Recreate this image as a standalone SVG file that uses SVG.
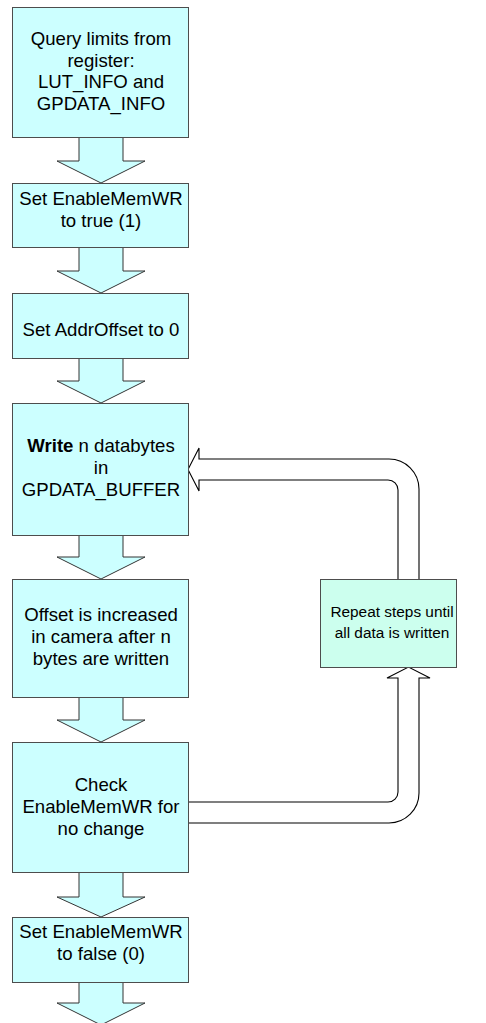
<svg xmlns="http://www.w3.org/2000/svg" width="486" height="1023" viewBox="0 0 486 1023">
<style>
.box{fill:#CCFFFF;stroke:#4d4d4d;stroke-width:1}
.box2{fill:#CCFFEE;stroke:#4d4d4d;stroke-width:1}
.down{fill:#CCFFFF;stroke:#333;stroke-width:1}
.loop{fill:#ffffff;stroke:#000;stroke-width:1.1}
text{font-family:"Liberation Sans",Arial,sans-serif;font-size:18.6px;fill:#000;text-anchor:middle}
.small{font-size:15.4px}
</style>
<rect width="486" height="1023" fill="#ffffff"/>
<g id="connectors">
<path class="down" d="M79,137 L79,161 L57,161 L101,183 L145,161 L123,161 L123,137"/>
<path class="down" d="M79,247 L79,271 L57,271 L101,293 L145,271 L123,271 L123,247"/>
<path class="down" d="M79,358 L79,381 L57,381 L101,403 L145,381 L123,381 L123,358"/>
<path class="down" d="M79,535 L79,557 L57,557 L101,579 L145,557 L123,557 L123,535"/>
<path class="down" d="M79,697 L79,720 L57,720 L101,742 L145,720 L123,720 L123,697"/>
<path class="down" d="M79,872 L79,897 L57,897 L101,917 L145,897 L123,897 L123,872"/>
<path class="down" d="M79,982 L79,1003 L57,1003 L101,1025 L145,1003 L123,1003 L123,982"/>
<path class="loop" d="M398,579 L398,490 A10,10 0 0 0 388,480 L199,480 L199,491 L188,469.5 L199,448 L199,459 L389,459 A30,30 0 0 1 419,489 L419,579"/>
<path class="loop" d="M189,802 L388,802 A10,10 0 0 0 398,792 L398,678 L387,678 L408.5,667 L430,678 L419,678 L419,793 A30,30 0 0 1 389,823 L189,823"/>
</g>
<g id="n1">
<rect class="box" x="12.5" y="7.5" width="176" height="130"/>
<text x="101" y="45">Query limits from</text>
<text x="101" y="67">register:</text>
<text x="101" y="88">LUT_INFO and</text>
<text x="101" y="110">GPDATA_INFO</text>
</g>
<g id="n2">
<rect class="box" x="12.5" y="183.5" width="176" height="64"/>
<text x="101" y="205">Set EnableMemWR</text>
<text x="101" y="227">to true (1)</text>
</g>
<g id="n3">
<rect class="box" x="12.5" y="293.5" width="176" height="65"/>
<text x="101" y="336">Set AddrOffset to 0</text>
</g>
<g id="n4">
<rect class="box" x="12.5" y="403.5" width="176" height="132"/>
<text x="101" y="452"><tspan font-weight="bold">Write</tspan> n databytes</text>
<text x="101" y="474">in</text>
<text x="101" y="496">GPDATA_BUFFER</text>
</g>
<g id="n5">
<rect class="box" x="12.5" y="579.5" width="176" height="118"/>
<text x="101" y="621">Offset is increased</text>
<text x="101" y="643">in camera after n</text>
<text x="101" y="665">bytes are written</text>
</g>
<g id="n6">
<rect class="box" x="12.5" y="742.5" width="176" height="130"/>
<text x="101" y="791">Check</text>
<text x="101" y="813">EnableMemWR for</text>
<text x="101" y="835">no change</text>
</g>
<g id="n7">
<rect class="box" x="12.5" y="917.5" width="176" height="65"/>
<text x="101" y="938">Set EnableMemWR</text>
<text x="101" y="960">to false (0)</text>
</g>
<g id="n8">
<rect class="box2" x="320.5" y="579.5" width="136" height="88"/>
<text class="small" x="392" y="617">Repeat steps until</text>
<text class="small" x="392" y="638">all data is written</text>
</g>
</svg>
